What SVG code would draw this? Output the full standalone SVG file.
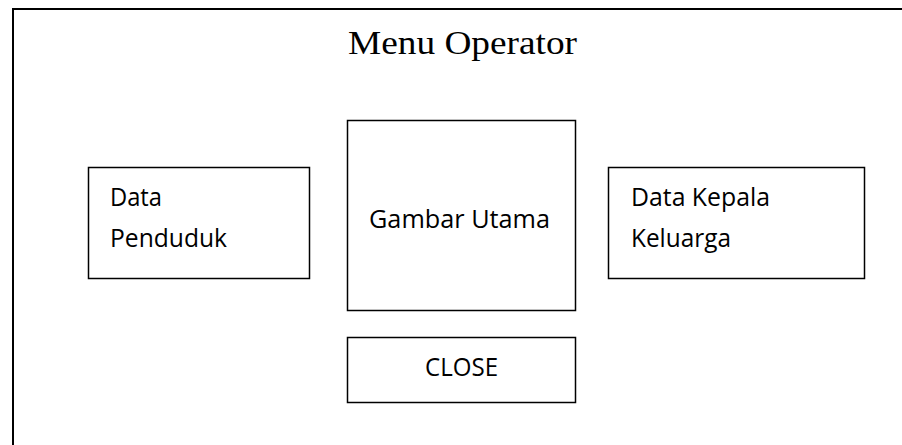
<svg xmlns="http://www.w3.org/2000/svg" width="902" height="445" viewBox="0 0 902 445">
<style>
.box{fill:#fff;stroke:#000;stroke-width:1.5}
.t{font-family:"Open Sans","DejaVu Sans",sans-serif;font-size:25px;fill:#000}
.title{font-family:"Liberation Serif","Times New Roman",serif;font-size:33px;fill:#000}
</style>
<rect width="902" height="445" fill="#fff"/>
<g id="frame">
<path d="M13 445 V9 H902" fill="none" stroke="#000" stroke-width="2"/>
<text class="title" x="348" y="54" textLength="229" lengthAdjust="spacingAndGlyphs">Menu Operator</text>
</g>
<g id="connectors"></g>
<g id="data-penduduk">
<rect class="box" x="88.5" y="167.5" width="221" height="111"/>
<text class="t" x="110" y="206" textLength="52" lengthAdjust="spacingAndGlyphs">Data</text>
<text class="t" x="110" y="247" textLength="117" lengthAdjust="spacingAndGlyphs">Penduduk</text>
</g>
<g id="gambar-utama">
<rect class="box" x="347.5" y="120.5" width="228" height="190"/>
<text class="t" x="369" y="228" textLength="181" lengthAdjust="spacingAndGlyphs">Gambar Utama</text>
</g>
<g id="data-kepala-keluarga">
<rect class="box" x="608.5" y="167.5" width="256" height="111"/>
<text class="t" x="631" y="206" textLength="139" lengthAdjust="spacingAndGlyphs">Data Kepala</text>
<text class="t" x="631" y="247" textLength="100" lengthAdjust="spacingAndGlyphs">Keluarga</text>
</g>
<g id="close">
<rect class="box" x="347.5" y="337.5" width="228" height="65"/>
<text class="t" x="425" y="376" textLength="73" lengthAdjust="spacingAndGlyphs">CLOSE</text>
</g>
</svg>
